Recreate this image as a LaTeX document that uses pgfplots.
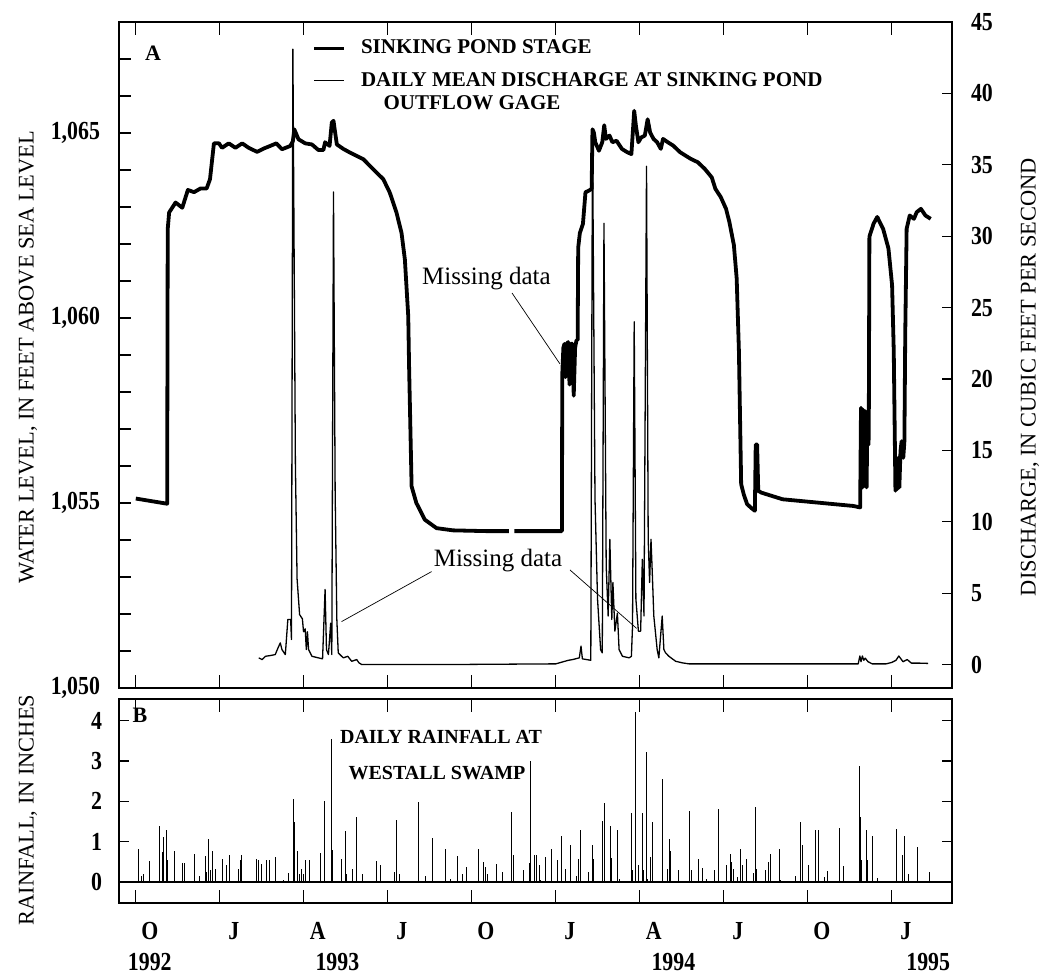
\documentclass[border=0pt]{standalone}
\usepackage{graphicx}
\usepackage{pgfplots}
\pgfplotsset{compat=1.18}
\usepackage{fontspec}
\setmainfont{Liberation Serif}
\newcommand\tickfont{\bfseries\fontsize{13}{13}\selectfont}
\newcommand\tl[1]{\scalebox{0.84}[1]{#1}}
\begin{document}
\begin{tikzpicture}
\useasboundingbox (0,0) rectangle (525pt,488.5pt);
\pgfplotsset{
  panel/.style={
    at={(59.5pt,#1)}, anchor=south west, scale only axis, width=416.5pt,
    xmin=8.4, xmax=38.15,
    axis line style={line width=0.7pt},
    tick align=inside, tick style={line width=0.6pt, black},
    xtick=\empty, minor xtick={9,10,...,38}, minor tick length=4pt,
    extra x ticks={9,12,15,18,21,24,27,30,33,36}, extra x tick labels={},
    extra x tick style={major tick length=6.5pt},
    xtick pos=both,
  }
}
% ---------------- Panel A: stage (left axis) ----------------
\begin{axis}[panel={144.5pt}, height=333pt, ymin=1050, ymax=1068,
  ytick={1050,1055,1060,1065}, yticklabels={\tl{1,050},\tl{1,055},\tl{1,060},\tl{1,065}},
  extra y ticks={1051,1052,1053,1054,1056,1057,1058,1059,1061,1062,1063,1064,1066,1067},
  extra y tick labels={},
  ytick pos=left, major tick length=6pt,
  yticklabel style={font=\tickfont, xshift=-6pt},
  unbounded coords=jump]
\addplot[black, line width=1.9pt, line join=round] coordinates {
(9.00,1055.12) (10.12,1054.98) (10.14,1062.4) (10.19,1062.85) (10.42,1063.12)
(10.66,1062.98) (10.86,1063.46) (11.08,1063.40) (11.31,1063.50) (11.53,1063.50)
(11.65,1063.75) (11.79,1064.72) (11.97,1064.72) (12.08,1064.60) (12.32,1064.72)
(12.56,1064.60) (12.80,1064.72) (13.03,1064.60) (13.33,1064.49) (13.57,1064.58)
(13.80,1064.65) (14.02,1064.72) (14.22,1064.56) (14.52,1064.65) (14.61,1064.78)
(14.66,1065.10) (14.81,1064.83) (15.05,1064.72) (15.29,1064.69) (15.52,1064.54)
(15.70,1064.54) (15.76,1064.75) (15.92,1064.65) (16.00,1065.28) (16.06,1065.33)
(16.18,1064.69) (16.41,1064.57) (16.65,1064.47) (16.89,1064.38) (17.13,1064.29)
(17.36,1064.11) (17.60,1063.93) (17.84,1063.75) (18.07,1063.39) (18.31,1062.85)
(18.49,1062.30) (18.61,1061.58) (18.73,1060.05) (18.76,1058.70) (18.85,1055.45)
(19.02,1055.00) (19.32,1054.55) (19.74,1054.32) (20.33,1054.26) (21.50,1054.24)
(22.32,1054.24) (22.42,nan) (22.52,1054.24) (24.22,1054.24) (24.23,1058.45)
(24.27,1059.2) (24.31,1059.3) (24.35,1058.4) (24.39,1059.3) (24.44,1059.35)
(24.49,1058.2) (24.54,1059.3) (24.60,1059.3) (24.64,1057.9) (24.69,1059.2)
(24.74,1059.4) (24.78,1059.4) (24.80,1061.9) (24.86,1062.3) (24.97,1062.55)
(25.06,1063.4) (25.18,1063.44) (25.28,1063.49) (25.31,1065.1) (25.36,1065.01)
(25.41,1064.75) (25.54,1064.52) (25.66,1064.75) (25.73,1065.21) (25.79,1064.84)
(25.92,1064.93) (26.02,1064.75) (26.17,1064.79) (26.36,1064.57) (26.55,1064.48)
(26.70,1064.43) (26.80,1065.60) (26.86,1065.20) (26.95,1064.75) (27.05,1064.88)
(27.18,1064.93) (27.28,1065.37) (27.37,1065.01) (27.49,1064.84) (27.62,1064.75)
(27.75,1064.57) (27.83,1064.84) (28.00,1064.75) (28.19,1064.66) (28.44,1064.48)
(28.82,1064.30) (29.07,1064.21) (29.32,1064.03) (29.57,1063.80) (29.70,1063.49)
(29.89,1063.27) (30.08,1062.95) (30.20,1062.59) (30.36,1061.97) (30.46,1061.07)
(30.54,1059.10) (30.62,1055.51) (30.71,1055.24) (30.83,1054.97) (30.99,1054.86)
(31.11,1054.79) (31.14,1056.58) (31.19,1056.58) (31.23,1055.33) (31.34,1055.28)
(32.10,1055.10) (33.36,1055.01) (34.62,1054.92) (34.87,1054.88) (34.90,1057.57)
(34.95,1055.42) (34.98,1057.52) (35.02,1055.78) (35.06,1057.48) (35.10,1055.42)
(35.13,1057.39) (35.17,1056.58) (35.18,1057.5) (35.20,1062.2) (35.35,1062.55)
(35.48,1062.73) (35.69,1062.41) (35.88,1061.88) (36.01,1060.89) (36.07,1059.10)
(36.13,1055.33) (36.16,1056.13) (36.19,1055.37) (36.23,1056.22) (36.27,1055.42)
(36.31,1056.40) (36.35,1056.67) (36.41,1056.22) (36.45,1056.67) (36.48,1059.55)
(36.53,1062.41) (36.64,1062.77) (36.79,1062.68) (36.89,1062.86) (37.04,1062.95)
(37.20,1062.77) (37.39,1062.68)
};
\end{axis}
% ---------------- Panel A: discharge (right axis) ----------------
\begin{axis}[at={(59.5pt,144.5pt)}, anchor=south west, scale only axis,
  width=416.5pt, height=333pt,
  xmin=8.4, xmax=38.15, ymin=-1.64, ymax=45,
  axis x line=none, axis y line*=right,
  axis line style={line width=0.7pt,-},
  ytick={0,5,...,45}, yticklabels={\tl{0},\tl{5},\tl{10},\tl{15},\tl{20},\tl{25},\tl{30},\tl{35},\tl{40},\tl{45}},
  tick align=inside, major tick length=5pt, ytick pos=right,
  tick style={line width=0.6pt, black},
  yticklabel style={font=\tickfont, xshift=6pt},
  legend style={at={(0.232,0.973)}, anchor=north west, draw=none, fill=none,
    inner sep=0pt, outer sep=0pt, row sep=7pt, column sep=7.5pt,
    font=\bfseries\fontsize{10.5}{11.3}\selectfont, nodes={inner sep=0pt}},
  legend cell align=left,
  legend image code/.code={\draw[#1] (0pt,0pt) -- (15pt,0pt);}]
\addlegendimage{black, line width=1.9pt}
\addlegendentry{SINKING POND STAGE}
\addplot[black, line width=0.65pt, line join=round] coordinates {
(13.39,0.47) (13.51,0.35) (13.63,0.58) (13.80,0.63) (13.98,0.70) (14.08,1.17)
(14.16,1.52) (14.22,1.05) (14.34,0.70) (14.43,3.16) (14.53,3.16) (14.56,1.75)
(14.61,43.1) (14.66,27.0) (14.70,14.0) (14.76,6.0) (14.85,3.5) (14.95,3.2)
(14.99,2.3) (15.05,2.5) (15.09,1.05) (15.13,2.3) (15.17,1.05) (15.29,0.58)
(15.52,0.47) (15.67,0.40) (15.76,5.26) (15.81,1.05) (15.88,0.70) (15.96,2.9)
(16.00,0.70) (16.06,33.1) (16.12,12.0) (16.18,3.16) (16.23,0.82) (16.41,0.47)
(16.57,0.58) (16.71,0.23) (16.89,0.35) (16.97,0.12) (17.07,0.0) (20.0,0.0)
(24.0,0.05) (24.45,0.3) (24.60,0.35) (24.84,0.47) (24.90,1.29) (24.95,0.4)
(25.25,0.3) (25.31,37.5) (25.40,11.6) (25.49,4.6) (25.60,1.05) (25.66,0.82)
(25.72,30.9) (25.80,6.9) (25.87,3.4) (25.93,8.77) (26.00,3.16) (26.04,5.75)
(26.11,2.34) (26.20,3.6) (26.26,1.05) (26.38,0.58) (26.62,0.47) (26.70,0.58)
(26.74,2.69) (26.80,24.0) (26.86,4.6) (26.95,2.34) (27.03,2.34) (27.09,7.37)
(27.15,3.4) (27.24,34.9) (27.30,8.77) (27.35,5.75) (27.40,8.77) (27.45,6.2)
(27.50,3.4) (27.62,1.05) (27.68,0.47) (27.80,3.4) (27.86,1.05) (27.92,0.82)
(28.04,0.58) (28.28,0.23) (28.52,0.12) (28.75,0.05) (34.80,0.05) (34.86,0.6)
(34.90,0.2) (34.95,0.6) (35.00,0.3) (35.05,0.45) (35.15,0.2) (35.30,0.05)
(35.80,0.05) (36.00,0.15) (36.15,0.3) (36.25,0.6) (36.40,0.2) (36.55,0.35)
(36.70,0.1) (37.00,0.1) (37.30,0.08)
};
\addlegendentry{\begin{tabular}[t]{@{}l@{}}DAILY MEAN DISCHARGE AT SINKING POND\\\hspace*{11.3pt}OUTFLOW GAGE\end{tabular}}
\end{axis}
% ---------------- Panel B: rainfall ----------------
\begin{axis}[panel={37pt}, height=102pt, ymin=-0.52, ymax=4.54,
  ytick={0,1,2,3,4}, yticklabels={\tl{0},\tl{1},\tl{2},\tl{3},\tl{4}},
  ytick pos=both, yticklabel pos=left, major tick length=5pt,
  yticklabel style={font=\tickfont, xshift=-5pt}, clip=false]
\addplot[black, line width=0.6pt] coordinates {(8.4,0) (38.15,0)};
\addplot[ycomb, black, line width=0.45pt, mark=none] coordinates {
(9.09,0.81) (9.21,0.16) (9.28,0.19) (9.49,0.52) (9.86,1.40) (9.96,0.74) (10.00,1.11)
(10.09,1.29) (10.13,0.54) (10.38,0.77) (10.68,0.47) (10.74,0.47) (11.09,0.70)
(11.28,0.14) (11.47,0.64) (11.53,0.25) (11.59,1.07) (11.66,0.29) (11.72,0.78)
(11.84,0.33) (12.10,0.58) (12.22,0.41) (12.35,0.66) (12.66,0.33) (12.72,0.54)
(12.76,0.68) (13.32,0.58) (13.37,0.54) (13.50,0.44) (13.66,0.54) (13.79,0.54)
(13.97,0.62) (14.29,0.04) (14.45,0.22) (14.64,2.06) (14.66,1.48) (14.76,0.77)
(14.85,0.21) (14.91,0.33) (14.98,0.21) (15.07,0.55) (15.20,0.55) (15.58,0.72)
(15.73,2.02) (15.98,3.55) (16.04,0.80) (16.33,0.58) (16.48,1.26) (16.54,0.21)
(16.73,0.33) (16.89,1.62) (17.08,0.21) (17.61,0.51) (17.73,0.41) (18.24,0.25)
(18.30,1.54) (18.42,0.21) (19.09,1.98) (19.11,0.95) (19.36,0.14) (19.59,1.09)
(20.05,0.82) (20.24,0.08) (20.47,0.64) (20.68,0.21) (20.80,0.37) (21.22,0.82)
(21.43,0.49) (21.49,0.37) (21.56,0.21) (21.89,0.45)
(22.10,0.25) (22.43,1.73) (22.49,0.68) (22.83,0.31) (23.06,0.47) (23.11,3.01)
(23.25,0.66) (23.30,0.66) (23.40,0.41) (23.46,0.04) (23.62,0.62) (23.86,0.82)
(24.06,0.54) (24.21,1.15) (24.34,0.33) (24.53,0.92) (24.72,0.16) (24.82,0.58)
(24.88,1.28) (25.16,0.26) (25.31,0.91) (25.36,0.56) (25.68,1.51) (25.72,1.96)
(25.75,0.64) (25.95,1.40) (26.00,0.59) (26.20,1.30) (26.29,0.07) (26.69,1.71)
(26.73,0.29) (26.83,4.21) (26.85,1.48) (26.95,0.41) (27.08,1.71) (27.13,0.29)
(27.24,3.22) (27.29,0.08) (27.38,0.62) (27.44,1.48) (27.82,2.56) (27.98,0.33)
(28.05,1.06) (28.11,0.78) (28.38,0.31) (28.77,1.75) (28.86,0.29) (29.11,0.56)
(29.24,0.35) (29.39,0.07) (29.68,0.29) (29.80,1.81) (30.09,0.41) (30.24,0.70)
(30.28,0.49) (30.34,0.33) (30.49,0.12) (30.60,0.81) (30.66,0.41) (30.82,0.58)
(31.06,0.23) (31.12,1.86) (31.16,0.33) (31.47,0.29) (31.60,0.49) (31.65,0.69)
(32.00,0.81) (32.04,0.04) (32.57,0.16) (32.72,1.50) (32.82,0.92) (33.01,0.43)
(33.26,1.30) (33.38,1.28) (33.61,0.12) (33.70,0.27) (34.14,1.34) (34.29,0.40)
(34.83,2.89) (34.87,1.61) (34.92,0.54) (35.08,1.30) (35.12,0.54) (35.31,1.14)
(35.49,0.10) (36.17,1.32) (36.37,0.68) (36.46,1.14) (36.61,0.21) (36.90,0.87)
(37.34,0.25)
};
\node[font=\tickfont, anchor=north] at (axis cs:9.5,-0.52) [yshift=-6pt] {\tl{O}};
\node[font=\tickfont, anchor=north] at (axis cs:12.5,-0.52) [yshift=-6pt] {\tl{J}};
\node[font=\tickfont, anchor=north] at (axis cs:15.5,-0.52) [yshift=-6pt] {\tl{A}};
\node[font=\tickfont, anchor=north] at (axis cs:18.5,-0.52) [yshift=-6pt] {\tl{J}};
\node[font=\tickfont, anchor=north] at (axis cs:21.5,-0.52) [yshift=-6pt] {\tl{O}};
\node[font=\tickfont, anchor=north] at (axis cs:24.5,-0.52) [yshift=-6pt] {\tl{J}};
\node[font=\tickfont, anchor=north] at (axis cs:27.5,-0.52) [yshift=-6pt] {\tl{A}};
\node[font=\tickfont, anchor=north] at (axis cs:30.5,-0.52) [yshift=-6pt] {\tl{J}};
\node[font=\tickfont, anchor=north] at (axis cs:33.5,-0.52) [yshift=-6pt] {\tl{O}};
\node[font=\tickfont, anchor=north] at (axis cs:36.5,-0.52) [yshift=-6pt] {\tl{J}};
\node[font=\tickfont] at (axis cs:9.5,-0.52) [yshift=-29.5pt] {\tl{1992}};
\node[font=\tickfont] at (axis cs:16.2,-0.52) [yshift=-29.5pt] {\tl{1993}};
\node[font=\tickfont] at (axis cs:28.2,-0.52) [yshift=-29.5pt] {\tl{1994}};
\node[font=\tickfont] at (axis cs:37.3,-0.52) [yshift=-29.5pt] {\tl{1995}};
\end{axis}
% ---------------- text annotations ----------------
\node[font=\bfseries\fontsize{11}{11}\selectfont] at (76.5pt,462pt) {A};
\node[font=\bfseries\fontsize{11}{11}\selectfont] at (70pt,131pt) {B};
\node[font=\fontsize{11.2}{11.2}\selectfont, rotate=90] at (14pt,310pt) {WATER LEVEL, IN FEET ABOVE SEA LEVEL};
\node[font=\fontsize{11.2}{11.2}\selectfont, rotate=90] at (14pt,83.5pt) {RAINFALL, IN INCHES};
\node[font=\fontsize{11.2}{11.2}\selectfont, rotate=90] at (515pt,300pt) {DISCHARGE, IN CUBIC FEET PER SECOND};
\node[font=\bfseries\fontsize{10}{10}\selectfont] at (220.5pt,120pt) {DAILY RAINFALL AT};
\node[font=\bfseries\fontsize{10}{10}\selectfont] at (218.5pt,102pt) {WESTALL SWAMP};
\node[font=\fontsize{12.5}{12.5}\selectfont, anchor=base west, inner sep=0pt] at (210.9pt,346pt) {Missing data};
\draw[line width=0.35pt] (256pt,342pt) -- (280pt,306.5pt);
\node[font=\fontsize{12.5}{12.5}\selectfont, anchor=base west, inner sep=0pt] at (216.7pt,205.2pt) {Missing data};
\draw[line width=0.35pt] (215.8pt,202.7pt) -- (170.8pt,177.7pt);
\draw[line width=0.35pt] (285pt,203.5pt) -- (318.3pt,174.3pt);
\end{tikzpicture}
\end{document}
